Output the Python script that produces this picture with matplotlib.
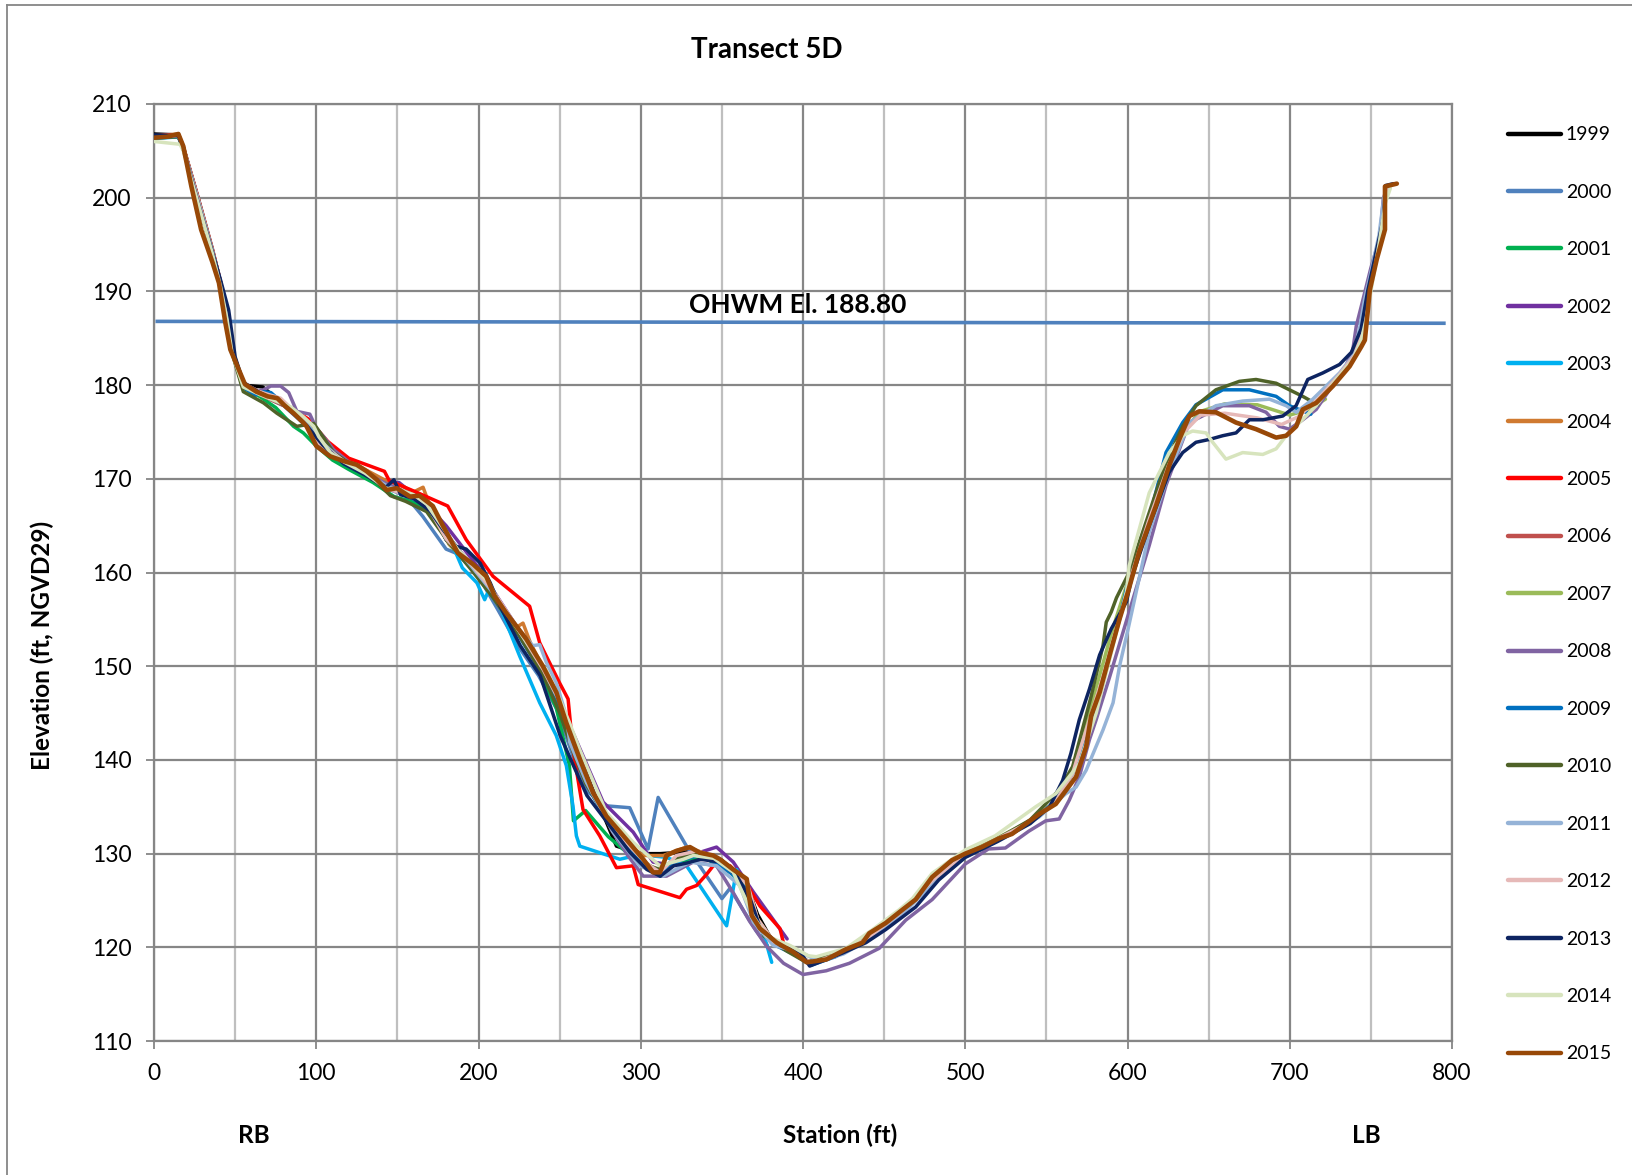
import matplotlib.pyplot as plt
from matplotlib.lines import Line2D

plt.rcParams['font.family'] = ['Lato', 'DejaVu Sans']

# survey years and line colours (Excel style)
years = ['1999', '2000', '2001', '2002', '2003', '2004', '2005', '2006', '2007',
         '2008', '2009', '2010', '2011', '2012', '2013', '2014', '2015']
colors = ['#000000', '#4F81BD', '#00B050', '#7030A0', '#00B0F0', '#D07A30',
          '#FF0000', '#C0504D', '#9BBB59', '#8064A2', '#0070C0', '#4F6228',
          '#95B3D7', '#E6B9B8', '#0D2461', '#D7E4BD', '#984807']

# station (ft), elevation (ft) pairs
p1999 = [(0, 206.8), (15, 206.7), (18, 205.4), (27, 200.0), (36, 194.3), (41, 190.9), (45, 187.5),
         (48, 183.8), (55, 180.0), (67, 179.8), (80, 177.9), (94, 175.9), (104, 173.6), (117, 171.8),
         (130, 170.6), (143, 169.2), (150, 168.7), (160, 168.0), (170, 166.9), (180, 163.5),
         (190, 161.5), (200, 160.0), (210, 157.5), (220, 155.0), (230, 152.6), (240, 149.8),
         (250, 146.0), (260, 141.5), (270, 137.0), (285, 130.8), (300, 130.0), (312, 130.0),
         (330, 130.2), (345, 129.5), (355, 128.3), (365, 126.8), (372, 123.5), (380, 121.0), (386, 120.2)]
p2000 = [(0, 206.5), (15, 206.6), (18, 205.3), (27, 199.8), (36, 194.2), (41, 190.8), (45, 187.4),
         (48, 183.6), (55, 180.0), (65, 179.0), (80, 177.8), (94, 175.6), (104, 173.4), (117, 171.6),
         (130, 170.3), (143, 169.0), (155, 168.2), (165.6, 166.0), (180, 162.5), (187, 162.0),
         (200, 159.6), (212, 156.0), (225, 152.0), (237, 149.0), (248, 145.5), (258, 140.5),
         (268, 136.5), (278.8, 135.1), (293.2, 134.9), (304.5, 130.5), (310.7, 136.0), (328.2, 130.8),
         (340.6, 127.6), (350, 125.2), (355, 126.3), (363, 124.0), (371, 121.8), (378, 120.2)]
p2001 = [(0, 206.4), (15, 206.5), (18, 205.2), (27, 199.7), (36, 194.1), (41, 190.7), (45, 187.3),
         (48, 183.5), (55, 179.7), (65, 178.8), (75, 177.6), (86, 175.6), (92, 174.9), (100, 173.5),
         (110, 172.0), (120, 171.0), (135, 169.6), (148, 168.1), (160, 167.5), (172, 166.3),
         (182, 163.0), (195, 160.6), (207, 158.0), (220, 154.8), (235, 150.5), (248, 145.5),
         (256, 139.4), (258.5, 133.5), (266, 134.6), (280, 131.8), (295, 129.6), (310, 128.2),
         (325, 129.2), (340, 129.5), (355, 128.0), (365, 126.5), (372, 122.8), (382, 120.4)]
p2002 = [(0, 206.6), (15, 206.7), (18, 205.4), (27, 200.1), (36, 194.5), (41, 191.0), (45, 187.6),
         (48, 183.8), (55, 180.2), (65, 179.3), (80, 178.1), (94, 176.0), (104, 174.0), (117, 172.0),
         (130, 170.8), (143, 169.6), (151, 169.6), (156, 168.9), (165, 167.8), (180, 165.0),
         (200, 160.5), (215, 156.5), (230, 152.5), (245, 147.5), (258.2, 142.9), (276.8, 135.5),
         (295.3, 132.3), (307.6, 129.1), (318, 128.8), (330.3, 129.8), (346.7, 130.7), (357, 129.1),
         (369.4, 125.9), (390.2, 120.9)]
p2003 = [(0, 206.3), (15, 206.5), (18, 205.2), (27, 199.8), (36, 194.2), (41, 190.8), (45, 187.4),
         (48, 183.6), (55, 180.0), (65, 179.0), (80, 177.9), (95, 175.9), (105, 173.6), (120, 171.6),
         (140, 169.6), (155, 168.4), (170, 167.0), (180, 164.5), (190, 160.5), (199, 158.9),
         (203.8, 157.1), (207.4, 158.6), (213, 156.4), (225.3, 151.1), (237.7, 146.1), (247.9, 142.6),
         (254.1, 139.4), (258.2, 135.1), (260.3, 131.9), (262.4, 130.8), (274.7, 130.1), (287.1, 129.4),
         (299.4, 129.9), (315.9, 129.6), (328.2, 128.7), (352.9, 122.3), (359.1, 128.3), (366, 125.5),
         (376.6, 120.9), (380.7, 118.4)]
p2004 = [(0, 206.6), (15, 206.8), (18, 205.5), (27, 200.1), (36, 194.5), (41, 191.0), (45, 187.7),
         (48, 183.9), (55, 180.2), (65, 179.3), (80, 178.0), (94, 176.0), (104, 174.0), (117, 172.2),
         (130, 171.0), (143, 169.8), (152, 169.3), (160, 168.6), (165.8, 169.1), (172, 166.2),
         (182, 163.0), (195, 160.8), (210, 157.3), (222, 154.0), (227.4, 154.6), (232, 152.5),
         (245, 148.0), (255, 143.5), (265, 138.5), (280, 133.5), (292, 131.0), (301.5, 129.8),
         (313.8, 129.8), (328.2, 130.7), (340, 130.0), (352, 129.0), (362, 127.6), (368, 124.5),
         (376, 121.5), (385, 120.3)]
p2005 = [(0, 206.6), (15, 206.7), (18, 205.4), (27, 200.0), (36, 194.4), (41, 191.0), (45, 187.6),
         (48, 183.8), (54, 180.3), (65, 179.2), (80, 178.0), (95, 176.4), (107, 174.0), (120, 172.2),
         (142, 170.8), (145, 169.8), (160, 168.7), (181, 167.1), (192.4, 163.5), (208.9, 159.6),
         (231.5, 156.4), (237.7, 152.5), (250, 148.2), (255.2, 146.5), (258.2, 141.1), (264.4, 134.7),
         (274.7, 131.9), (285, 128.5), (295.3, 128.7), (298.4, 126.7), (324.1, 125.3), (328.2, 126.2),
         (334.4, 126.6), (340.6, 127.8), (346, 129.0), (355, 128.7), (363.2, 127.3), (373.5, 124.4),
         (385.8, 122.0), (387.9, 120.5)]
p2006 = [(0, 206.5), (15, 206.6), (18, 205.3), (27, 199.9), (36, 194.3), (41, 190.9), (45, 187.5),
         (48, 183.7), (55, 180.0), (65, 179.0), (80, 177.8), (94, 175.8), (104, 173.7), (117, 171.8),
         (130, 170.6), (143, 169.3), (155, 168.4), (168, 167.2), (180, 163.8), (195, 160.8),
         (210, 157.6), (225, 153.6), (240, 149.5), (250, 146.0), (260, 141.0), (270, 136.5),
         (280, 133.6), (292, 131.0), (303, 129.0), (312, 128.0), (322, 129.6), (335, 130.2),
         (348, 129.3), (358, 128.0), (366, 126.5), (372, 123.0), (382, 120.6)]
p2007 = [(0, 206.5), (15, 206.6), (18, 205.3), (27, 199.9), (36, 194.3), (41, 190.9), (45, 187.5),
         (48, 183.7), (55, 180.0), (65, 179.1), (80, 177.9), (94, 175.9), (104, 173.8), (117, 171.8),
         (130, 170.6), (143, 169.3), (155, 168.4), (168, 167.2), (180, 163.8), (195, 160.8),
         (210, 157.6), (225, 153.4), (240, 149.5), (250, 146.0), (260, 141.0), (270, 136.5),
         (280, 133.6), (292, 131.0), (303, 129.0), (312, 128.0), (322, 129.6), (335, 130.2),
         (348, 129.3), (358, 128.0), (366, 126.3), (372, 123.0), (382, 120.6), (395, 119.5),
         (405, 118.3), (420, 119.2), (440, 121.2), (460, 123.8), (480, 127.3), (500, 130.0),
         (520, 131.7), (540, 133.5), (555, 135.5), (566, 139.0), (578, 146.0), (590, 153.5),
         (601, 159.5), (613, 165.8), (625, 171.5), (635, 175.2), (645, 177.2), (660, 178.0),
         (680, 177.9), (700, 176.8), (712, 177.4), (722, 178.5)]
p2008 = [(0, 206.5), (15, 206.6), (18, 205.3), (27, 199.8), (36, 194.2), (41, 190.8), (45, 187.3),
         (48, 183.6), (55, 180.0), (62, 179.3), (67.4, 179.5), (72, 179.9), (78, 179.9), (83, 179.2),
         (88, 177.2), (96, 176.9), (100.3, 175.3), (104.5, 174.5), (110.7, 173.1), (120, 171.8),
         (130, 170.6), (143, 169.5), (155, 168.6), (168, 167.5), (180, 164.0), (195, 161.0),
         (210, 157.6), (225, 153.4), (240, 149.3), (250, 146.0), (260, 141.5), (270, 136.8),
         (282, 132.5), (292, 129.8), (301.5, 127.6), (315.9, 127.6), (332.3, 129.1), (346.7, 128.7),
         (357.1, 125.8), (367, 122.8), (377.6, 120.1), (388, 118.3), (400, 117.1), (414.3, 117.5),
         (428.6, 118.3), (447, 119.9), (463.3, 122.9), (479.6, 125.1), (500, 128.9), (514.3, 130.5),
         (524.7, 130.6), (539.2, 132.4), (549.6, 133.5), (557.9, 133.7), (564.1, 135.7),
         (570.3, 138.2), (576.6, 142.2), (580.7, 144.3), (588.7, 148.7), (601, 155.8), (613.4, 162.9),
         (623.7, 169.3), (638.1, 176.0), (658.7, 177.8), (675.1, 177.8), (685.4, 177.1),
         (693.6, 175.6), (699.8, 175.3), (708, 176.3), (716.3, 177.4), (724.5, 179.5), (732.7, 181.3),
         (738.9, 183.8), (741, 186.3), (745.1, 189.1), (750, 192.5), (755.6, 195.8), (757.6, 199.8),
         (760, 201.2)]
p2009 = [(0, 206.6), (15, 206.6), (18, 205.3), (27, 199.9), (36, 194.3), (41, 190.9), (45, 187.5),
         (48, 183.7), (55, 179.8), (62, 178.9), (68, 179.3), (72, 179.2), (80, 178.0), (94, 175.8),
         (104, 173.6), (117, 171.6), (130, 170.5), (143, 169.2), (155, 168.3), (168, 167.1),
         (180, 163.6), (195, 160.6), (210, 157.4), (225, 153.2), (240, 149.0), (250, 145.6),
         (260, 140.8), (270, 136.3), (280, 133.3), (292, 130.6), (303, 128.5), (312, 127.6),
         (322, 129.2), (335, 129.8), (348, 128.9), (358, 127.6), (366, 126.0), (372, 122.6),
         (382, 120.3), (395, 119.2), (405, 118.1), (420, 119.0), (440, 121.0), (460, 123.6),
         (480, 127.0), (500, 129.8), (520, 131.5), (540, 133.4), (555, 135.5), (566, 138.5),
         (576, 143.5), (585, 148.5), (595, 155.0), (601, 159.5), (613, 165.5), (623.7, 172.8),
         (634, 176.0), (642.2, 177.9), (658.7, 179.5), (675.1, 179.5), (691.6, 178.8),
         (699.8, 177.8), (713, 176.9)]
p2010 = [(0, 206.4), (15, 206.5), (18, 205.2), (27, 199.7), (36, 194.1), (41, 190.7), (45, 187.3),
         (48, 183.5), (55, 179.3), (67.5, 178.1), (75.7, 177.0), (88, 175.6), (98.4, 175.9),
         (102.5, 174.9), (110.7, 172.8), (123.1, 171.3), (137.5, 169.6), (145.7, 168.2), (155, 167.6),
         (168, 166.5), (180, 163.6), (196, 160.2), (209, 157.3), (225, 153.3), (240, 149.0),
         (250, 145.0), (258, 141.0), (266, 137.5), (280, 133.5), (295, 130.5), (305, 128.7),
         (312, 128.3), (322, 129.5), (335, 130.1), (350, 129.3), (360, 127.5), (368, 124.2),
         (376, 121.2), (390, 119.6), (402, 118.4), (420, 119.3), (440, 121.0), (460, 123.6),
         (480, 127.3), (500, 129.9), (520, 131.6), (540, 133.6), (557.9, 136.8), (566.2, 139.3),
         (577.6, 146.8), (584.9, 152.2), (586.9, 154.7), (590, 155.8), (593.2, 157.3), (601, 160.0),
         (613.4, 166.4), (623.7, 171.7), (634, 175.6), (642.2, 177.8), (654.5, 179.5), (668.9, 180.4),
         (679.2, 180.6), (691.6, 180.2), (699.8, 179.5), (708, 178.8), (717.3, 177.9)]
p2011 = [(0, 206.5), (15, 206.6), (18, 205.3), (27, 199.8), (36, 194.2), (41, 190.8), (45, 187.4),
         (48, 183.6), (55, 180.0), (65, 179.1), (80, 178.0), (94, 175.9), (104, 173.8), (117, 171.8),
         (130, 170.6), (143, 169.3), (155, 168.4), (168, 167.2), (180, 164.0), (195, 160.8),
         (210, 157.6), (225, 153.8), (233.5, 152.2), (237.7, 152.3), (241.8, 150.4), (248, 148.2),
         (254.1, 144.7), (256.2, 141.9), (266.5, 137.6), (283, 132.3), (299.4, 128.7), (313.8, 127.6),
         (330.3, 129.1), (346.7, 128.7), (361.1, 126.6), (369.4, 122.7), (381.7, 120.2),
         (398.2, 119.5), (410, 118.5), (425, 119.3), (440, 120.8), (460, 123.3), (480, 126.8),
         (500, 129.6), (520, 131.4), (545.4, 133.9), (562, 136.4), (568.3, 137.1), (574.5, 138.9),
         (584.9, 143.2), (591.1, 146.1), (595.2, 150.1), (600.4, 154.0), (613.4, 164.3),
         (625.7, 170.7), (638.1, 176.0), (654.5, 177.8), (671, 178.3), (687.5, 178.5), (697.8, 177.8),
         (704, 177.1), (714.2, 178.5), (730.7, 181.3), (738.9, 183.1), (743, 186.0), (746.1, 189.1),
         (750, 192.0), (755, 196.0), (758, 200.0), (762, 201.3)]
p2012 = [(0, 206.5), (15, 206.6), (18, 205.3), (27, 199.9), (36, 194.3), (41, 190.9), (45, 187.5),
         (48, 183.7), (55, 180.1), (65, 179.3), (78, 178.6), (90, 176.6), (100, 174.0), (117, 171.9),
         (130, 170.7), (143, 169.0), (155, 168.3), (168, 167.3), (180, 163.6), (195, 161.0),
         (210, 157.8), (225, 153.8), (240, 149.6), (250, 146.2), (260, 141.2), (270, 136.6),
         (280, 133.6), (292, 131.0), (303, 129.0), (312, 128.0), (322, 129.8), (335, 130.3),
         (348, 129.4), (358, 128.1), (366, 126.6), (372, 123.0), (382, 120.6), (395, 119.5),
         (405, 118.3), (420, 119.2), (440, 121.0), (460, 123.7), (480, 127.2), (500, 129.9),
         (520, 131.6), (540, 133.4), (555, 135.4), (566, 138.5), (576, 144.0), (586, 149.5),
         (596, 155.5), (602, 159.5), (613, 165.5), (625, 171.3), (635, 175.0), (645, 176.8),
         (660, 177.0), (680, 176.5), (695, 175.8), (705, 176.6), (718, 178.6), (730, 181.0),
         (740, 183.2), (745, 186.0), (749, 190.0), (754, 194.0), (758, 198.0), (760, 201.2)]
p2013 = [(0, 206.7), (15, 206.6), (18, 205.2), (28, 199.0), (36, 194.2), (41, 191.2), (46, 188.0),
         (50, 183.0), (55, 180.3), (65, 179.2), (80, 177.9), (94, 175.7), (104, 173.6), (117, 171.6),
         (130, 170.4), (143, 169.1), (147.8, 169.9), (152, 168.3), (160, 167.9), (170, 166.6),
         (178, 164.6), (186.2, 162.8), (192.4, 162.5), (201, 161.0), (207.2, 158.9), (213.3, 156.4),
         (225.7, 152.2), (238, 149.0), (250.3, 142.6), (258.5, 139.4), (266.8, 136.2), (279.1, 133.4),
         (293.5, 130.1), (303.8, 128.3), (312, 127.6), (320.3, 128.7), (328.5, 129.0), (336.7, 129.4),
         (349.1, 129.1), (359.3, 127.6), (367.6, 125.1), (373.7, 122.0), (386.1, 120.2),
         (398.2, 119.5), (404.1, 118.0), (424.5, 119.4), (438.8, 120.5), (451, 121.9), (469.4, 124.3),
         (483.7, 127.2), (500, 129.6), (520, 131.3), (540, 133.2), (552, 135.0), (560, 137.8),
         (565.1, 140.7), (570.3, 144.3), (576.6, 147.6), (582.8, 151.2), (590, 154.0), (599.4, 156.9),
         (602.5, 159.4), (613.4, 165.0), (625.7, 170.7), (634, 172.8), (642.2, 173.9), (650.4, 174.2),
         (658.7, 174.6), (666.9, 174.9), (675.1, 176.3), (683.4, 176.3), (695.7, 176.7),
         (703.9, 177.8), (711.1, 180.6), (720.4, 181.3), (730.7, 182.2), (738, 183.5), (744, 186.0),
         (748, 190.0), (753, 194.0), (758, 198.0), (759, 201.3), (764, 201.5)]
p2014 = [(0, 206.0), (16, 205.7), (18, 205.0), (27, 199.5), (36, 194.0), (41, 190.5), (45, 187.0),
         (48, 183.5), (55, 179.8), (65, 179.0), (77.8, 178.1), (84, 177.7), (92.2, 176.6), (98.4, 175.6),
         (101.5, 174.5), (108.7, 172.8), (117, 171.8), (130, 170.6), (143, 169.0), (152, 168.8),
         (160, 168.3), (168, 167.3), (176, 165.3), (187, 162.5), (197, 160.7), (206, 159.0),
         (212, 157.0), (220, 155.0), (232, 152.0), (242, 149.5), (250, 146.5), (256, 144.0),
         (262.4, 141.1), (278.8, 134.4), (295.3, 131.2), (311.8, 128.7), (326.2, 129.4),
         (332.4, 129.8), (345, 129.5), (357, 128.0), (369.4, 123.3), (377.6, 121.2), (392, 120.2),
         (403.3, 119.1), (408.2, 119.0), (426.5, 119.9), (442.9, 121.9), (459.2, 124.0),
         (467.4, 125.2), (479.6, 127.9), (500, 130.4), (518.4, 131.9), (543.4, 135.0), (555.8, 136.4),
         (570.3, 139.6), (580.7, 145.0), (591.1, 152.2), (599.4, 158.0), (601, 160.7), (613.4, 168.5),
         (625.7, 172.8), (634, 174.6), (640.1, 175.1), (648.4, 174.9), (652.5, 173.9), (660.7, 172.1),
         (671, 172.8), (683.4, 172.6), (691.6, 173.2), (697.8, 174.6), (706, 176.0), (716.3, 177.8),
         (728.6, 180.6), (738.9, 182.7), (744.1, 184.8), (747, 187.0), (751, 191.0), (755, 195.0),
         (759, 199.5), (762, 201.0)]
p2015 = [(0, 206.4), (8, 206.5), (15, 206.8), (18, 205.5), (23, 201.2), (29, 196.6), (36, 193.1),
         (40, 190.9), (44, 186.6), (47, 183.8), (56, 180.1), (63, 179.3), (70, 178.8), (76, 178.6),
         (80, 177.9), (86, 177.0), (92, 176.0), (94, 175.6), (100, 173.5), (108.5, 172.4),
         (116.7, 171.9), (124.9, 171.5), (131.1, 170.8), (137.3, 169.9), (143.4, 168.8), (149.6, 169.0),
         (157.8, 168.1), (163.6, 168.2), (171.8, 167.1), (178, 165.0), (187.2, 162.1), (196.5, 160.9),
         (204.7, 159.6), (209.9, 157.5), (217, 155.7), (229.4, 152.9), (239.7, 150.0), (248, 147.2),
         (254, 144.0), (262.4, 140.1), (270.6, 136.5), (278.8, 134.0), (291.2, 131.5), (301.5, 129.4),
         (307.6, 128.0), (311.8, 128.0), (315.9, 129.8), (322, 130.3), (330.3, 130.7), (336.4, 130.1),
         (344.7, 129.8), (348.8, 129.4), (357, 128.3), (365.3, 127.3), (368.4, 123.4), (373.5, 122.0),
         (383.8, 120.5), (394, 119.5), (402.3, 118.4), (414.3, 118.7), (426.5, 119.8), (436.7, 120.5),
         (440.8, 121.5), (451, 122.6), (461.2, 124.0), (469.4, 125.1), (479.6, 127.5), (491.8, 129.3),
         (500, 130.0), (510.2, 130.7), (520.4, 131.6), (528.8, 132.1), (545.4, 134.2), (555.8, 135.3),
         (568.3, 138.2), (574.5, 141.4), (577.6, 144.7), (582.8, 147.2), (589, 151.2), (595.2, 155.1),
         (600.4, 158.0), (607.2, 162.2), (617.5, 167.1), (625.7, 171.4), (631.9, 174.2), (638.1, 176.7),
         (644.2, 177.2), (654.5, 177.1), (666.9, 176.0), (679.2, 175.3), (691.6, 174.4), (697.8, 174.6),
         (704, 175.6), (708, 177.4), (716.3, 178.1), (726.6, 179.9), (736.9, 182.0), (744.1, 184.1),
         (746.3, 184.8), (749.4, 190.2), (753.6, 193.4), (758.7, 196.6), (758.7, 201.2), (766, 201.5)]

profiles = [p1999, p2000, p2001, p2002, p2003, p2004, p2005, p2006, p2007,
            p2008, p2009, p2010, p2011, p2012, p2013, p2014, p2015]

# ordinary high water mark line
ohwm_x = [2, 795]
ohwm_y = [186.8, 186.6]

fig = plt.figure(figsize=(16.32, 11.75), dpi=100)
ax = fig.add_axes([0.0944, 0.114, 0.7953, 0.7975])

ax.plot(ohwm_x, ohwm_y, color='#4F81BD', lw=2.6, zorder=2)
ax.text(397, 188.55, 'OHWM El. 188.80', ha='center', va='center',
        fontsize=19, fontweight='bold', zorder=5)

handles = []
for yr, col, pts in zip(years, colors, profiles):
    xs = [p[0] for p in pts]
    ys = [p[1] for p in pts]
    lw = 3.3 if yr == '2015' else 2.5
    ln, = ax.plot(xs, ys, color=col, lw=lw, label=yr, zorder=3,
                  solid_joinstyle='round', solid_capstyle='round')
    handles.append(ln)

ax.set_xlim(0, 800)
ax.set_ylim(110, 210)
ax.set_xticks(range(0, 801, 100))
ax.set_xticks(range(50, 800, 100), minor=True)
ax.set_yticks(range(110, 211, 10))
ax.grid(which='major', color='#868686', lw=1.6, zorder=0)
ax.grid(which='minor', axis='x', color='#BFBFBF', lw=1.6, zorder=0)
ax.set_axisbelow(True)
for sp in ax.spines.values():
    sp.set_color('#868686')
    sp.set_linewidth(1.6)
ax.tick_params(which='major', direction='out', length=6, width=1.3, color='#868686',
               labelsize=16.5, pad=10)
ax.tick_params(which='minor', length=0)

leg = fig.legend(handles=handles, labels=years, loc='upper left',
                 bbox_to_anchor=(0.924, 0.8925), frameon=False, fontsize=14,
                 borderpad=0, borderaxespad=0, handlelength=2.73, handletextpad=0.25,
                 labelspacing=2.08)
for h in leg.legend_handles:
    h.set_linewidth(3.2)

fig.text(0.470, 0.9574, 'Transect 5D', ha='center', va='center', fontsize=20, fontweight='bold')
fig.text(0.0257, 0.451, 'Elevation (ft, NGVD29)', ha='center', va='center', rotation=90,
         fontsize=17.5, fontweight='bold')
fig.text(0.5147, 0.034, 'Station (ft)', ha='center', va='center', fontsize=17.5, fontweight='bold')
fig.text(0.1556, 0.034, 'RB', ha='center', va='center', fontsize=17.5, fontweight='bold')
fig.text(0.837, 0.034, 'LB', ha='center', va='center', fontsize=17.5, fontweight='bold')

# chart area border (left and top edges visible)
fig.add_artist(Line2D([0.0045, 0.0045], [0, 0.9956], color='#868686', lw=1.3))
fig.add_artist(Line2D([0.0045, 1], [0.9956, 0.9956], color='#868686', lw=1.3))

fig.savefig('out.png', dpi=100)
